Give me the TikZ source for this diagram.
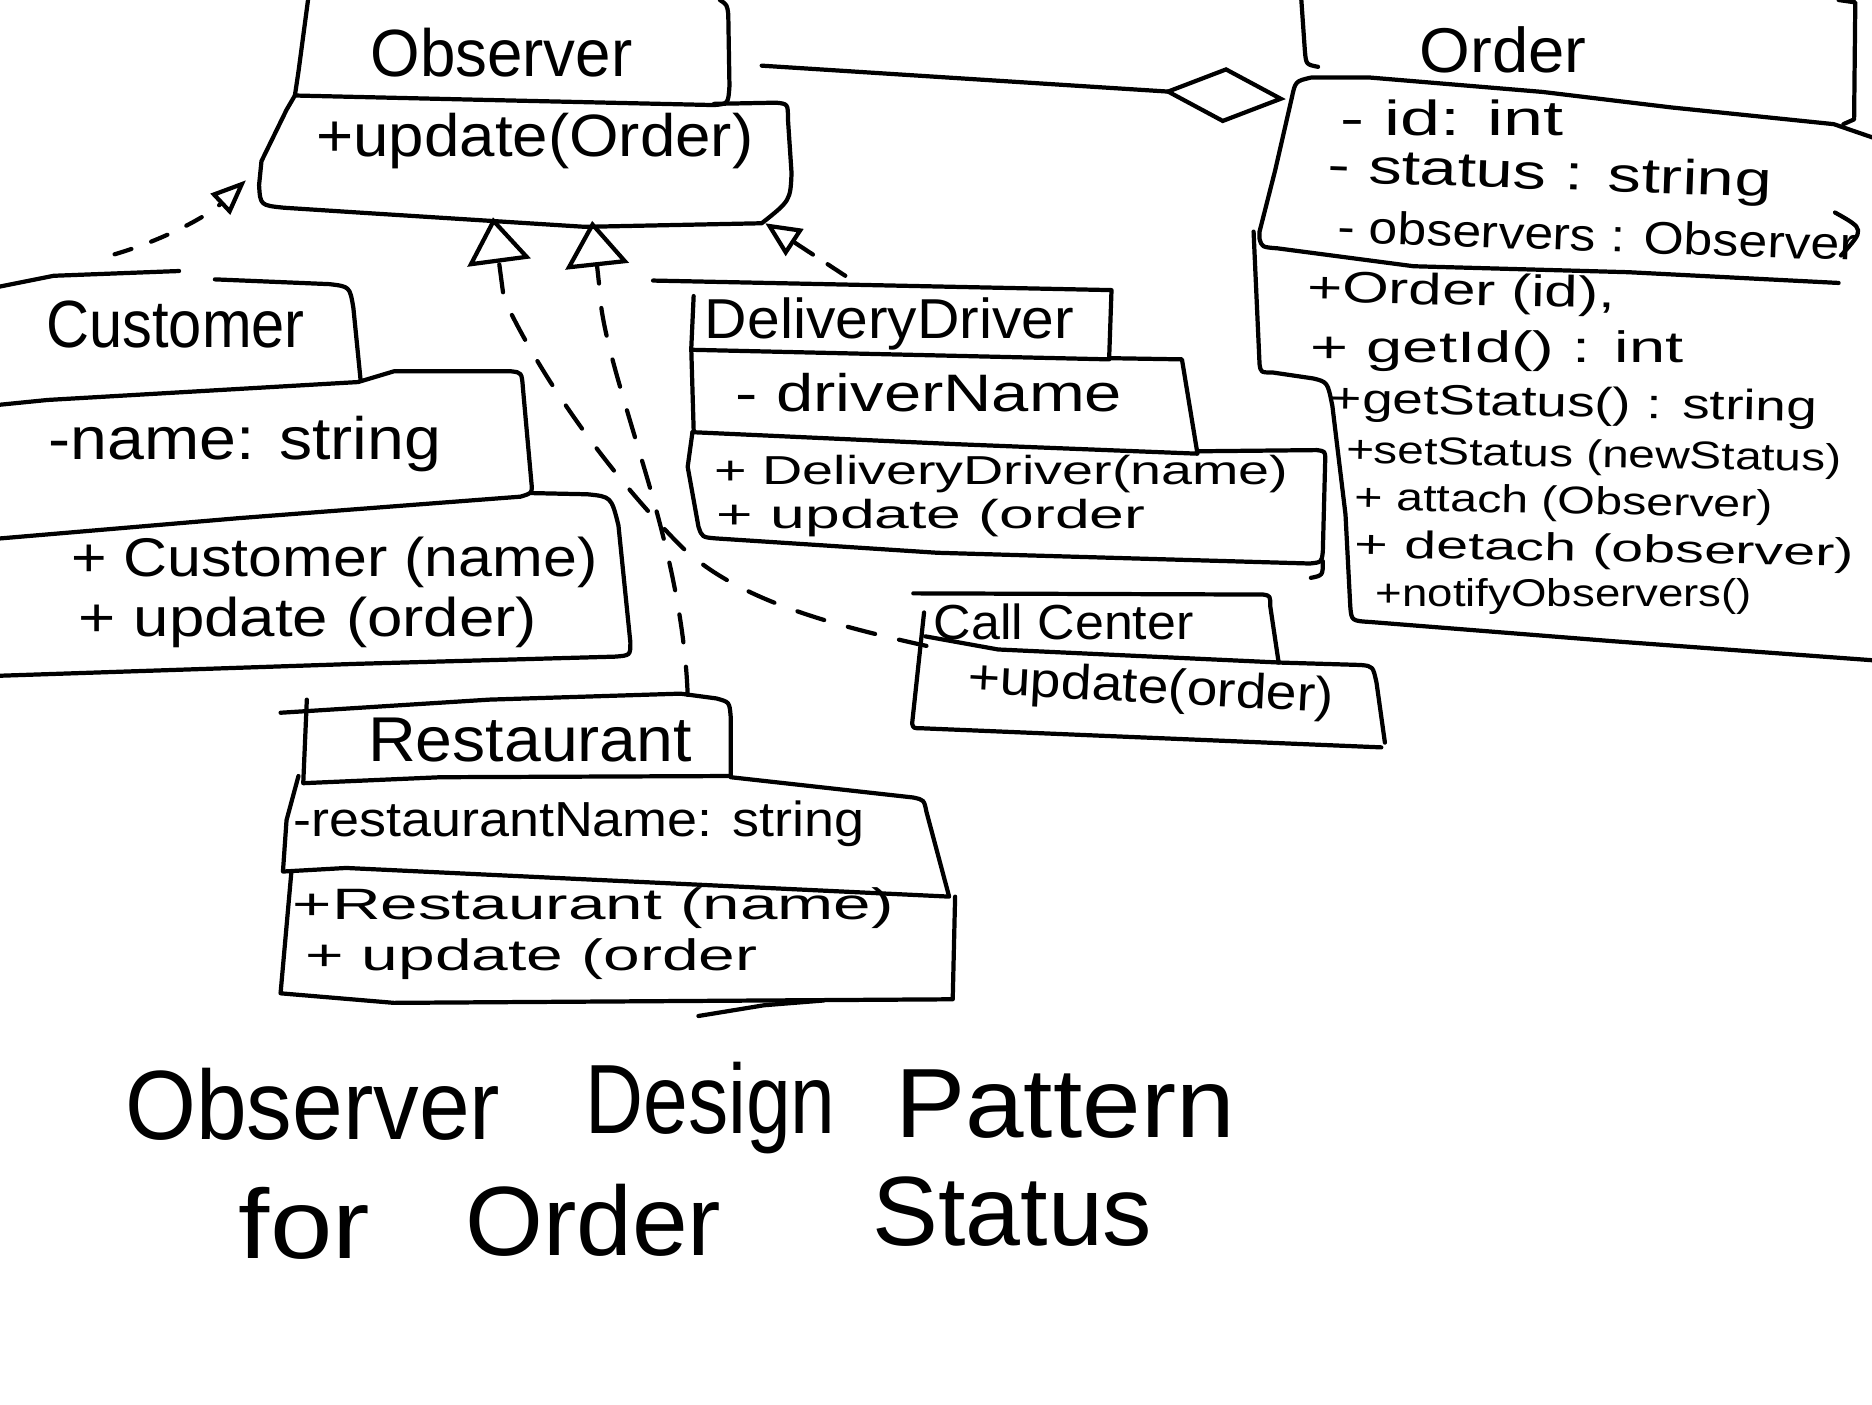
\documentclass[tikz,border=0pt]{standalone}
\usepackage{graphicx}
\usepackage{fontspec}
\setmainfont{Liberation Sans}
\usetikzlibrary{arrows.meta}
\newcommand\hfs[1]{\fontsize{#1}{#1}\selectfont}
% stretch a text horizontally to a width given in picture units, keeping its height
\newcommand\fw[2]{\resizebox{\dimexpr 0.3386pt*#1\relax}{\height}{#2}}
\begin{document}
\begin{tikzpicture}[x=0.011939cm,y=-0.011939cm,
  stroke/.style={line width=1.2pt,line cap=round,line join=round},
  lbl/.style={inner sep=0pt,anchor=center},
  realize/.style={stroke,dash pattern=on 8pt off 7pt,-{Triangle[open,length=13pt,width=18pt]}},
  smallreal/.style={stroke,dash pattern=on 5pt off 6pt,-{Triangle[open,length=10pt,width=8pt]}},
  aggr/.style={stroke,-{Diamond[open,length=35pt,width=16pt]}}
]
\useasboundingbox (0,0) rectangle (1568,1176);
\fill[white] (0,0) rectangle (1568,1176);

% ---------------- Observer
\draw[stroke] (258,0) -- (250,60) -- (247,80) -- (420,84) -- (598,88) .. controls (610,87) .. (611,72) -- (610,12) .. controls (609,4) .. (603,0);
\draw[stroke] (598,87) -- (650,86) .. controls (660,87) .. (660,100) -- (663,145) .. controls (662,168) .. (638,187) -- (490,190) -- (300,178) -- (238,174) .. controls (218,172) .. (217,155) -- (219,135) -- (240,92) -- (247,80);
\node[lbl,font=\hfs{19}] (obsName) at (420,44) {\fw{220}{Observer}};
\node[lbl,font=\hfs{17}] (obsM) at (448,118) {\fw{367}{+update(Order)}};

% ---------------- Customer
\draw[stroke] (0,240) -- (45,231) -- (150,227);
\draw[stroke] (180,234) -- (276,238) .. controls (293,240) .. (296,258) -- (302,318);
\draw[stroke] (0,339) -- (40,335) -- (300,320) -- (330,311) -- (428,311) .. controls (437,312) .. (438,325) -- (445,403) .. controls (446,413) .. (436,416) -- (200,434) -- (0,451);
\draw[stroke] (445,413) -- (492,414) .. controls (512,416) .. (518,440) -- (528,538) .. controls (528,549) .. (515,550) -- (300,556) -- (0,566);
\node[lbl,font=\hfs{19}] (custName) at (147,272) {\fw{217}{Customer}};
\node[lbl,font=\hfs{17}] (custA) at (205,372) {\fw{330}{-name: string}};
\node[lbl,font=\hfs{15.5}] (custM1) at (280,471) {\fw{442}{+ Customer (name)}};
\node[lbl,font=\hfs{15.5}] (custM2) at (258,521) {\fw{385}{+ update (order)}};

% ---------------- DeliveryDriver
\draw[stroke] (547,235) -- (931,243) -- (929,301) -- (580,293);
\draw[stroke] (581,248) -- (579,292) -- (581,360);
\draw[stroke] (929,300) -- (990,301) -- (1003,380) -- (800,372) -- (580,362);
\draw[stroke] (580,362) -- (576,391) -- (585,441) .. controls (588,450) .. (600,451) -- (785,463) -- (1097,472) .. controls (1107,471) .. (1108,462) -- (1110,385) .. controls (1110,378) .. (1103,377) -- (1003,378);
\draw[stroke] (1108,470) .. controls (1108,482) .. (1098,484);
\node[lbl,font=\hfs{16}] (ddName) at (745,271) {\fw{310}{DeliveryDriver}};
\node[lbl,font=\hfs{15}] (ddA) at (778,329) {\fw{325}{- driverName}};
\node[lbl,font=\hfs{11.5}] (ddM1) at (839,397) {\fw{482}{+ DeliveryDriver(name)}};
\node[lbl,font=\hfs{11.5}] (ddM2) at (780,434) {\fw{360}{+ update (order}};

% ---------------- Call Center
\draw[stroke] (765,497) -- (1058,498) .. controls (1064,499) .. (1064,508) -- (1071,555);
\draw[stroke] (774,513) -- (764,606) .. controls (765,610) .. (772,610) -- (1157,626);
\draw[stroke] (775,533) -- (836,544) -- (1073,555) -- (1140,557) .. controls (1150,558) .. (1153,572) -- (1160,622);
\node[lbl,font=\hfs{14}] (ccName) at (891,521) {\fw{218}{Call Center}};
\node[lbl,font=\hfs{14},rotate=-3] (ccM) at (964,578) {\fw{308}{+update(order)}};

% ---------------- Restaurant
\draw[stroke] (235,597) -- (410,586) -- (570,581) -- (600,585) .. controls (611,588) .. (612,600) -- (612,650);
\draw[stroke] (257,586) -- (254,656) -- (369,651) -- (611,650);
\draw[stroke] (612,651) -- (765,668) .. controls (774,670) .. (776,680) -- (795,751) -- (290,727) -- (237,730) -- (240,687) -- (250,650);
\draw[stroke] (244,731) -- (235,832) -- (330,840) -- (798,837) -- (800,751);
\draw[stroke] (585,851) -- (640,842) -- (690,838);
\node[lbl,font=\hfs{18}] (rName) at (444,620) {\fw{272}{Restaurant}};
\node[lbl,font=\hfs{14}] (rA) at (485,690) {\fw{480}{-restaurantName: string}};
\node[lbl,font=\hfs{12.5}] (rM1) at (497,761) {\fw{505}{+Restaurant (name)}};
\node[lbl,font=\hfs{12.5}] (rM2) at (445,803) {\fw{380}{+ update (order}};

% ---------------- Order
\draw[stroke] (1090,0) -- (1093,43) .. controls (1094,54) .. (1104,56);
\draw[stroke] (1540,0) -- (1554,2) -- (1553,100) -- (1544,104);
\draw[stroke] (1568,115) -- (1536,104) -- (1400,90) -- (1292,77) -- (1148,65) -- (1098,65) .. controls (1085,68) .. (1082,82) -- (1068,143) -- (1055,194) -- (1055,200) .. controls (1057,207) .. (1070,208) -- (1184,223) -- (1364,228) -- (1540,237);
\draw[stroke] (1537,178) .. controls (1562,192) .. (1542,214);
\draw[stroke] (1050,194) -- (1055,305) .. controls (1056,312) .. (1066,312) -- (1100,317) .. controls (1112,320) .. (1116,340) -- (1127,431) -- (1131,508) .. controls (1132,520) .. (1148,521) -- (1350,537) -- (1568,553);
\node[lbl,font=\hfs{18}] (oName) at (1259,42) {\fw{140}{Order}};
\node[lbl,font=\hfs{14}] (oA1) at (1216,99) {\fw{187}{- id: int}};
\node[lbl,font=\hfs{14},rotate=-2] (oA2) at (1298,148) {\fw{373}{- status : string}};
\node[lbl,font=\hfs{13},rotate=-2] (oA3) at (1338,197) {\fw{436}{- observers : Observer}};
\node[lbl,font=\hfs{12.5},rotate=-1] (oM1) at (1224,246) {\fw{258}{+Order (id),}};
\node[lbl,font=\hfs{12.5}] (oM2) at (1254,294) {\fw{313}{+ getId() : int}};
\node[lbl,font=\hfs{12},rotate=-1] (oM3) at (1318,340) {\fw{409}{+getStatus() : string}};
\node[lbl,font=\hfs{11},rotate=-1] (oM4) at (1335,383) {\fw{416}{+setStatus (newStatus)}};
\node[lbl,font=\hfs{11},rotate=-1] (oM5) at (1310,422) {\fw{351}{+ attach (Observer)}};
\node[lbl,font=\hfs{11},rotate=-1] (oM6) at (1344,462) {\fw{419}{+ detach (observer)}};
\node[lbl,font=\hfs{11}] (oM7) at (1310,500) {\fw{316}{+notifyObservers()}};

% ---------------- connectors
\coordinate (obsTipL) at (413,182);
\coordinate (obsTipR) at (496,185);
\coordinate (obsTipC) at (206,151);
\coordinate (obsTipD) at (641,187);
\coordinate (custTop) at (96,213);
\coordinate (restTop) at (576,582);
\coordinate (ccLeft) at (776,541);
\coordinate (ddTop) at (708,231);
\coordinate (obsSide) at (638,55);
\coordinate (ordSide) at (1077,83);

\draw[realize] (ccLeft) .. controls (690,522) and (610,500) .. (565,452) .. controls (510,395) and (455,320) .. (422,250) -- (obsTipL);
\draw[realize] (restTop) .. controls (573,500) and (548,420) .. (533,370) .. controls (515,310) and (503,270) .. (502,240) -- (obsTipR);
\draw[smallreal] (custTop) .. controls (140,200) and (175,180) .. (obsTipC);
\draw[stroke,dash pattern=on 6pt off 5pt,-{Triangle[open,length=10pt,width=9pt]}] (ddTop) -- (obsTipD);
\draw[aggr] (obsSide) -- (ordSide);

% ---------------- title
\node[lbl,font=\hfs{28}] (t1) at (262,925) {\fw{315}{Observer}};
\node[lbl,font=\hfs{28}] (t2) at (595,928) {\fw{210}{Design}};
\node[lbl,font=\hfs{28}] (t3) at (892,925) {\fw{285}{Pattern}};
\node[lbl,font=\hfs{28}] (t4) at (255,1025) {\fw{110}{for}};
\node[lbl,font=\hfs{28}] (t5) at (497,1022) {\fw{215}{Order}};
\node[lbl,font=\hfs{28}] (t6) at (848,1015) {\fw{235}{Status}};
\end{tikzpicture}
\end{document}
